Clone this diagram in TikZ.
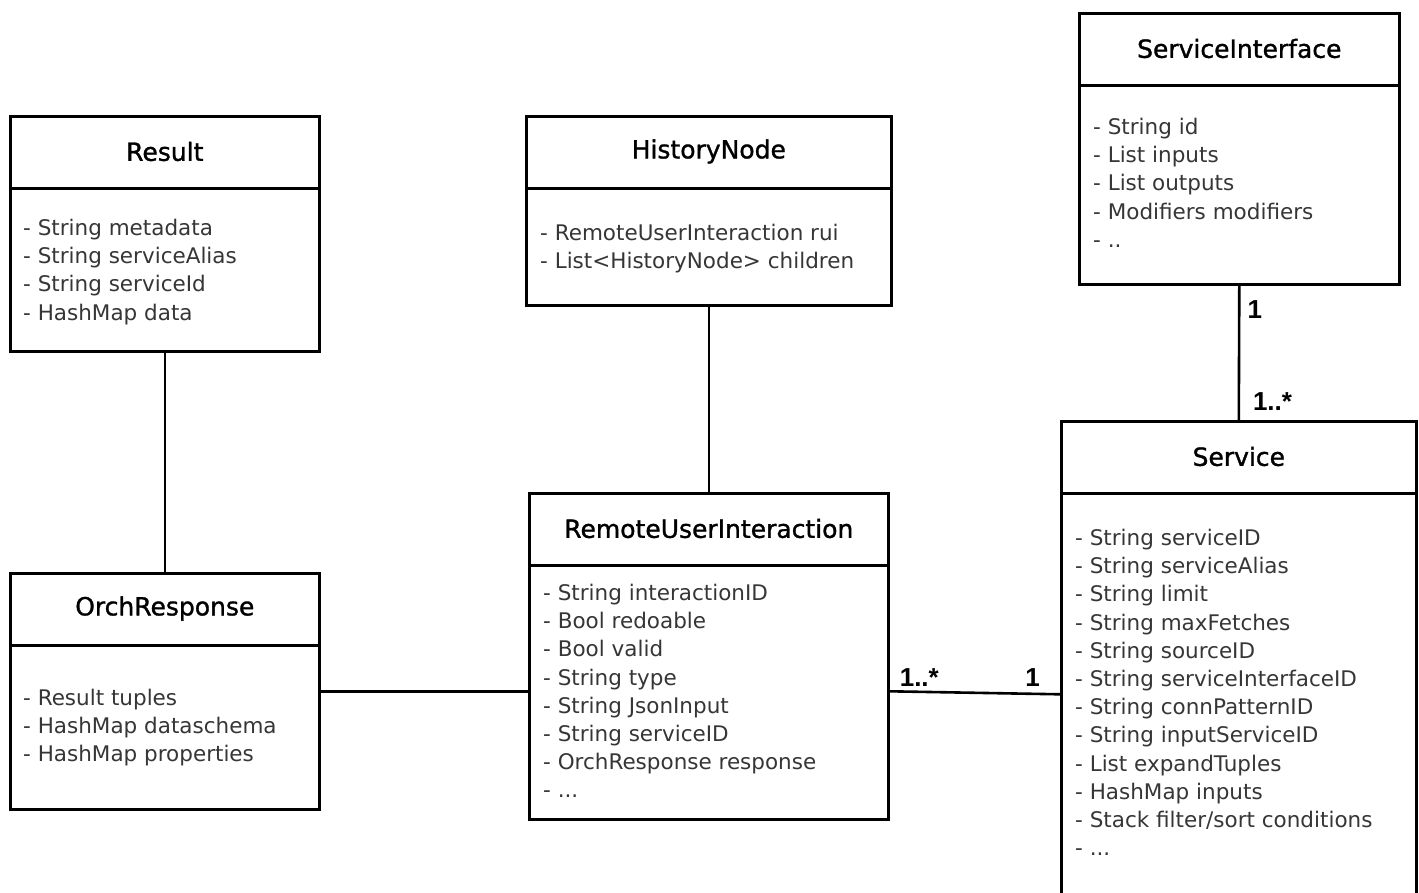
\documentclass[tikz,border=0pt]{standalone}
\usepackage{fontspec}
\setmainfont{DejaVu Sans}
\newfontfamily\headfont[FakeBold=1.2]{DejaVu Sans}
\newfontfamily\multfont{Liberation Sans}
\definecolor{attrgray}{HTML}{363636}
\begin{document}
\begin{tikzpicture}[x=1pt, y=-1pt,
  classbox/.style={draw=black, line width=2.6pt, rectangle, inner sep=0pt, anchor=north west},
  divider/.style={line width=2.6pt},
  classtitle/.style={font=\headfont\fontsize{25}{30}\selectfont, text=black, inner sep=0pt},
  attrs/.style={font=\fontsize{21.5}{28.2}\selectfont, text=attrgray, align=left, inner sep=0pt, anchor=north west},
  mult/.style={font=\multfont\bfseries\fontsize{26}{30}\selectfont, text=black, inner sep=0pt},
  link/.style={line width=2.6pt}]

\useasboundingbox (0,0) rectangle (1419,893);
\clip (0,0) rectangle (1419,893);
\fill[white] (0,0) rectangle (1419,893);

% class boxes
\node[classbox, minimum width=309, minimum height=235] (result)  at (9,115)   {};
\node[classbox, minimum width=365, minimum height=189] (history) at (525,115)  {};
\node[classbox, minimum width=320, minimum height=271] (si)      at (1078,12)  {};
\node[classbox, minimum width=355, minimum height=520] (service) at (1060,420) {};
\node[classbox, minimum width=359, minimum height=326] (rui)     at (528,492)  {};
\node[classbox, minimum width=309, minimum height=236] (orch)    at (9,572)   {};

% header separators
\foreach \b in {result,history,si,service,rui,orch}
  \draw[divider] ([yshift=-73.5pt]\b.north west) -- ([yshift=-73.5pt]\b.north east);

% class names
\node[classtitle] (resultT)  at ([yshift=-36.5pt]result.north)  {Result};
\node[classtitle] (historyT) at ([yshift=-36.5pt]history.north) {HistoryNode};
\node[classtitle] (siT)      at ([yshift=-36.5pt]si.north)      {ServiceInterface};
\node[classtitle] (serviceT) at ([yshift=-36.5pt]service.north) {Service};
\node[classtitle] (ruiT)     at ([yshift=-36.5pt]rui.north)     {RemoteUserInteraction};
\node[classtitle] (orchT)    at ([yshift=-36.5pt]orch.north)    {OrchResponse};

% attributes
\node[attrs] (resultA) at (23,219) {- String metadata\\- String serviceAlias\\- String serviceId\\- HashMap data};
\node[attrs] (historyA) at (540,224) {- RemoteUserInteraction rui\\- List<HistoryNode> children};
\node[attrs] (siA) at (1093,118) {- String id\\- List inputs\\- List outputs\\- Modifiers modifiers\\- ..};
\node[attrs] (serviceA) at (1075,529) {- String serviceID\\- String serviceAlias\\- String limit\\- String maxFetches\\- String sourceID\\- String serviceInterfaceID\\- String connPatternID\\- String inputServiceID\\- List expandTuples\\- HashMap inputs\\- Stack filter/sort conditions\\- ...};
\node[attrs] (ruiA) at (543,584) {- String interactionID\\- Bool redoable\\- Bool valid\\- String type\\- String JsonInput\\- String serviceID\\- OrchResponse response\\- ...};
\node[attrs] (orchA) at (23,689) {- Result tuples\\- HashMap dataschema\\- HashMap properties};

% associations
\draw[link] (result.south) -- (orch.north);
\draw[link] (history.south) -- (rui.north);
\draw[link] (si.south) -- (service.north);
\draw[link] (orch.east) -- (orch.east -| rui.west);
\coordinate (ruiport) at (orch.east -| rui.east);
\coordinate (svcport) at ([yshift=-3pt]orch.east -| service.west);
\draw[link] (ruiport) -- (svcport);

% multiplicities
\node[mult, anchor=base west] (m1) at ([xshift=8pt, yshift=-33pt]si.south) {1};
\node[mult, anchor=base west] (m2) at ([xshift=14pt, yshift=10pt]service.north) {1..*};
\node[mult, anchor=base west] (m3) at ([xshift=10pt, yshift=5pt]ruiport) {1..*};
\node[mult, anchor=base east] (m4) at ([xshift=-20pt, yshift=8pt]svcport) {1};
\end{tikzpicture}
\end{document}
